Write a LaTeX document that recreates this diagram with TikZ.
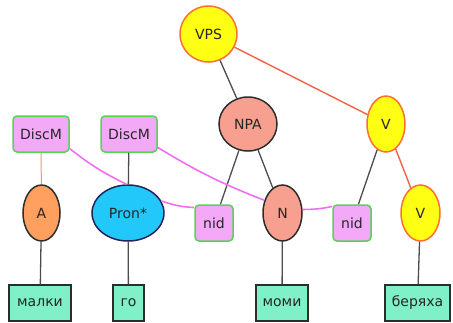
\documentclass[tikz,border=0pt]{standalone}
\usepackage{fontspec}
\setmainfont{DejaVu Sans}
\usetikzlibrary{shapes.geometric}
\definecolor{yel}{RGB}{255,255,20}
\definecolor{orb}{RGB}{255,110,50}
\definecolor{salm}{RGB}{248,160,144}
\definecolor{orf}{RGB}{255,160,96}
\definecolor{cyf}{RGB}{34,200,250}
\definecolor{pnk}{RGB}{244,168,248}
\definecolor{grb}{RGB}{80,215,80}
\definecolor{aqu}{RGB}{128,240,200}
\definecolor{pline}{RGB}{240,110,240}
\definecolor{rline}{RGB}{240,100,70}
\definecolor{dk}{RGB}{45,45,45}
\tikzset{
  x=1pt,y=-1pt,
  every node/.style={font=\fontsize{14}{16}\selectfont, text=black!85, inner sep=0pt},
  yell/.style={ellipse, draw=orb, fill=yel, line width=1.5pt},
  pbox/.style={rectangle, rounded corners=4pt, draw=grb, fill=pnk, line width=1.5pt, minimum height=36pt},
  wbox/.style={rectangle, draw=dk, fill=aqu, line width=1.5pt, minimum height=36pt},
  edge/.style={draw=dk!85, line width=1.3pt},
  redge/.style={draw=rline, line width=1.4pt},
  pedge/.style={draw=pline, line width=1.6pt},
}
\begin{document}
\begin{tikzpicture}
\useasboundingbox (0,0) rectangle (453,322);
% nodes
\node[yell, minimum width=57pt, minimum height=56pt] (vps) at (208.5,34) {VPS};
\node[ellipse, draw=dk, fill=salm, line width=1.5pt, minimum width=58pt, minimum height=54pt] (npa) at (248,124) {NPA};
\node[yell, minimum width=38pt, minimum height=56pt] (v1) at (386,124) {V};
\node[pbox, minimum width=56pt] (d1) at (41,134) {DiscM};
\node[pbox, minimum width=56pt] (d2) at (129,134) {DiscM};
\node[ellipse, draw=dk, fill=orf, line width=1.5pt, minimum width=37pt, minimum height=56pt] (a) at (41.5,213) {A};
\node[ellipse, draw=dk!80!blue, fill=cyf, line width=1.5pt, minimum width=72pt, minimum height=56pt] (pron) at (128,213) {Pron*};
\node[pbox, minimum width=38pt] (nid1) at (214,223) {nid};
\node[ellipse, draw=dk, fill=salm, line width=1.5pt, minimum width=39pt, minimum height=56pt] (n) at (282.5,213) {N};
\node[pbox, minimum width=38pt] (nid2) at (352,223) {nid};
\node[yell, minimum width=39pt, minimum height=56pt] (v2) at (420.5,213) {V};
\node[wbox, minimum width=62pt] (w1) at (40,303) {малки};
\node[wbox, minimum width=31pt] (w2) at (128.5,303) {го};
\node[wbox, minimum width=52pt] (w3) at (282,303) {моми};
\node[wbox, minimum width=65pt] (w4) at (417.5,303) {беряха};
% edges
\path[edge] (vps) -- (npa);
\path[redge] (vps) -- (v1);
\path[edge] (npa) -- (nid1);
\path[edge] (npa) -- (n);
\path[edge] (v1) -- (nid2);
\path[redge] (v1) -- (v2);
\path[draw=rline!70, line width=1pt] (d1) -- (a);
\path[edge] (d2) -- (pron);
\path[edge] (a) -- (w1);
\path[edge] (pron) -- (w2);
\path[edge] (n) -- (w3);
\path[edge] (v2) -- (w4);
\path[pedge] (d1.-27) to[bend right=6] (pron.93);
\path[pedge] (pron.20) to[bend right=8] (nid1.142);
\path[pedge] (d2.-25) to[bend right=5] (n.145);
\path[pedge] (n.10) to[bend right=6] (nid2.140);
\end{tikzpicture}
\end{document}
